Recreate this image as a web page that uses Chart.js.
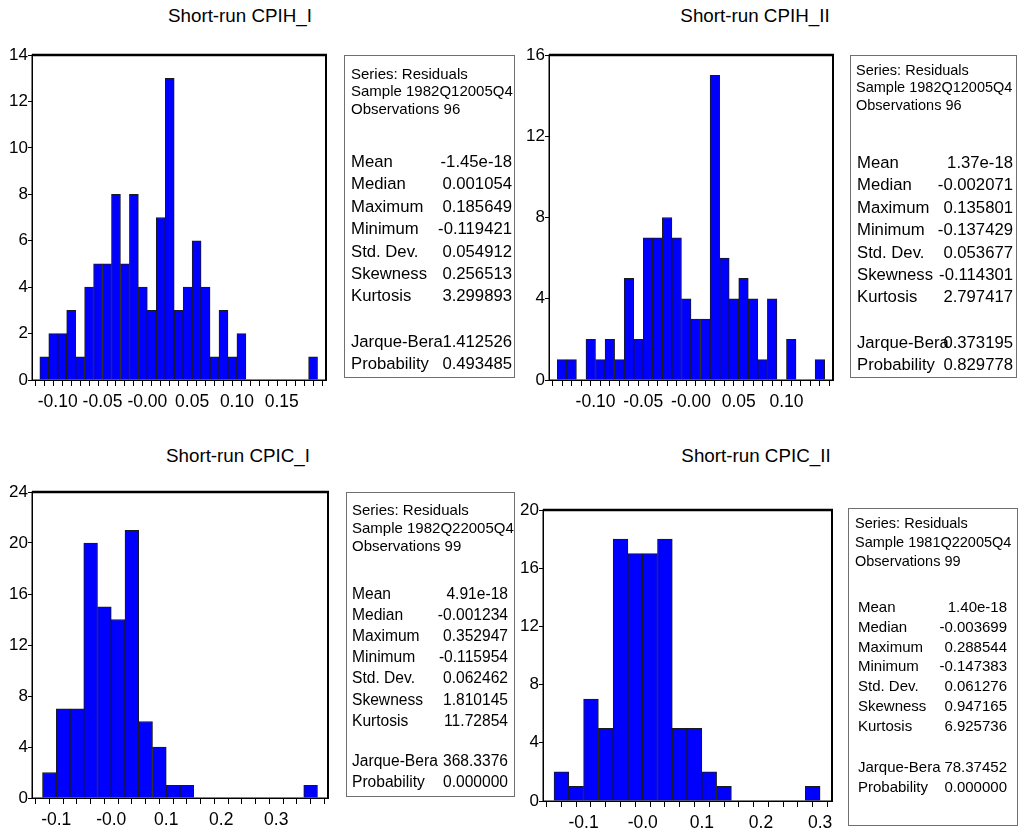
<!DOCTYPE html>
<html>
<head>
<meta charset="utf-8">
<script src="https://cdn.jsdelivr.net/npm/chart.js@4.4.1/dist/chart.umd.min.js"></script>
<style>
  body { margin: 0; background: #fff; width: 1019px; height: 829px; position: relative; overflow: hidden;
         font-family: "Liberation Sans", Arial, sans-serif; color: #000; }
  canvas { position: absolute; }
  .title { position: absolute; font-size: 18.8px; transform: translate(-50%, -50%); white-space: nowrap; }
  .box { position: absolute; border: 1px solid #707070; box-sizing: border-box; }
  .box div { position: absolute; white-space: nowrap; line-height: 1; transform: translateY(-50%); }
</style>
</head>
<body>
<script>
// bin midpoints and counts
const CPIH_I_BINS = [-0.115, -0.105, -0.095, -0.085, -0.075, -0.065, -0.055, -0.045, -0.035, -0.025, -0.015,
  -0.005, 0.005, 0.015, 0.025, 0.035, 0.045, 0.055, 0.065, 0.075, 0.085, 0.095, 0.105, 0.115, 0.125, 0.135,
  0.145, 0.155, 0.165, 0.175, 0.185];
const CPIH_I_COUNTS = [1, 2, 2, 3, 1, 4, 5, 5, 8, 5, 8, 4, 3, 7, 13, 3, 4, 6, 4, 1, 3, 1, 2, 0, 0, 0, 0, 0, 0, 0, 1];

const CPIH_II_BINS = [-0.135, -0.125, -0.115, -0.105, -0.095, -0.085, -0.075, -0.065, -0.055, -0.045, -0.035,
  -0.025, -0.015, -0.005, 0.005, 0.015, 0.025, 0.035, 0.045, 0.055, 0.065, 0.075, 0.085, 0.095, 0.105, 0.115,
  0.125, 0.135];
const CPIH_II_COUNTS = [1, 1, 0, 2, 1, 2, 1, 5, 2, 7, 7, 8, 7, 4, 3, 3, 15, 6, 4, 5, 4, 1, 4, 0, 2, 0, 0, 1];

const CPIC_I_BINS = [-0.1125, -0.0875, -0.0625, -0.0375, -0.0125, 0.0125, 0.0375, 0.0625, 0.0875, 0.1125,
  0.1375, 0.1625, 0.1875, 0.2125, 0.2375, 0.2625, 0.2875, 0.3125, 0.3375, 0.3625];
const CPIC_I_COUNTS = [2, 7, 7, 20, 15, 14, 21, 6, 4, 1, 1, 0, 0, 0, 0, 0, 0, 0, 0, 1];

const CPIC_II_BINS = [-0.1375, -0.1125, -0.0875, -0.0625, -0.0375, -0.0125, 0.0125, 0.0375, 0.0625, 0.0875,
  0.1125, 0.1375, 0.1625, 0.1875, 0.2125, 0.2375, 0.2625, 0.2875];
const CPIC_II_COUNTS = [2, 1, 7, 5, 18, 17, 17, 18, 5, 5, 2, 1, 0, 0, 0, 0, 0, 1];

const TITLES = ["Short-run CPIH_I", "Short-run CPIH_II", "Short-run CPIC_I", "Short-run CPIC_II"];
const STAT_NAMES = ["Mean", "Median", "Maximum", "Minimum", "Std. Dev.", "Skewness", "Kurtosis"];
const SAMPLES = ["1982Q12005Q4", "1982Q12005Q4", "1982Q22005Q4", "1981Q22005Q4"];
const OBS = [96, 96, 99, 99];
const STATS = [
  ["-1.45e-18", "0.001054", "0.185649", "-0.119421", "0.054912", "0.256513", "3.299893"],
  ["1.37e-18", "-0.002071", "0.135801", "-0.137429", "0.053677", "-0.114301", "2.797417"],
  ["4.91e-18", "-0.001234", "0.352947", "-0.115954", "0.062462", "1.810145", "11.72854"],
  ["1.40e-18", "-0.003699", "0.288544", "-0.147383", "0.061276", "0.947165", "6.925736"],
];
const JARQUE = ["1.412526", "0.373195", "368.3376", "78.37452"];
const PROB = ["0.493485", "0.829778", "0.000000", "0.000000"];

const BAR = "#0000ff";
const FONT = "'Liberation Sans', Arial, sans-serif";
Chart.defaults.font.family = FONT;
Chart.defaults.color = "#000";

// layout of each panel (plot area in page pixels, axis ranges)
const PANELS = [
  { bins: CPIH_I_BINS, counts: CPIH_I_COUNTS, l: 32, t: 55, r: 326, b: 380,
    xmin: -0.1236, xmax: 0.1943, xstep: 0.01, xlab: 0.05, dec: 2, ymax: 14, ystep: 2,
    title: [240, 16] },
  { bins: CPIH_II_BINS, counts: CPIH_II_COUNTS, l: 549, t: 55, r: 833, b: 380,
    xmin: -0.1436, xmax: 0.1436, xstep: 0.01, xlab: 0.05, dec: 2, ymax: 16, ystep: 4,
    title: [755, 16] },
  { bins: CPIC_I_BINS, counts: CPIC_I_COUNTS, l: 32, t: 492, r: 328, b: 798,
    xmin: -0.1313, xmax: 0.3813, xstep: 0.025, xlab: 0.1, dec: 1, ymax: 24, ystep: 4,
    title: [238, 456] },
  { bins: CPIC_II_BINS, counts: CPIC_II_COUNTS, l: 543, t: 510, r: 832, b: 801,
    xmin: -0.1558, xmax: 0.3073, xstep: 0.025, xlab: 0.1, dec: 1, ymax: 20, ystep: 4,
    title: [756, 456] },
];

const BOXES = [
  { x: 344, y: 55, w: 171, h: 323, hy: [72, 89, 107], sy: 161, ss: 22.4, jy: 341, py: 363, hf: 15, sf: 16.7, hp: 7, lp: 7, rp: 3 },
  { x: 850, y: 55, w: 167, h: 323, hy: [69, 86, 104], sy: 162, ss: 22.4, jy: 342, py: 364, hf: 14.5, sf: 16.7, hp: 6, lp: 7, rp: 4 },
  { x: 346, y: 492, w: 169, h: 305, hy: [508, 526, 544], sy: 593, ss: 21.1, jy: 760, py: 781, hf: 15, sf: 15.6, hp: 6, lp: 6, rp: 7 },
  { x: 848, y: 508, w: 170, h: 318, hy: [522, 541, 560], sy: 605, ss: 19.8, jy: 765, py: 785, hf: 14.5, sf: 15, hp: 7, lp: 10, rp: 11 },
];

const frame = {
  id: "frame",
  afterDraw(c) {
    const { ctx, chartArea: a } = c;
    ctx.save();
    ctx.strokeStyle = "#000";
    ctx.lineWidth = 1;
    ctx.strokeRect(a.left, a.top, a.right - a.left, a.bottom - a.top);
    ctx.lineWidth = 2.5;
    ctx.beginPath();
    ctx.moveTo(a.left, a.top);
    ctx.lineTo(a.right + 1, a.top);
    ctx.stroke();
    ctx.lineWidth = 2;
    ctx.beginPath();
    ctx.moveTo(a.right, a.top);
    ctx.lineTo(a.right, a.bottom);
    ctx.stroke();
    ctx.restore();
  },
};

function xLabel(p) {
  return (v) => {
    const n = Math.round(v / p.xlab);
    if (Math.abs(v - n * p.xlab) > p.xstep * 0.01) return "";
    const s = (n * p.xlab).toFixed(p.dec);
    return n === 0 ? "-" + s : s;
  };
}

const PAD_L = 45, PAD_T = 15, PAD_R = 30, PAD_B = 45;

PANELS.forEach((p, i) => {
  const cv = document.createElement("canvas");
  const w = p.r - p.l + PAD_L + PAD_R, h = p.b - p.t + PAD_T + PAD_B;
  cv.width = w; cv.height = h;
  cv.style.left = p.l - PAD_L + "px";
  cv.style.top = p.t - PAD_T + "px";
  cv.style.width = w + "px"; cv.style.height = h + "px";
  document.body.appendChild(cv);

  new Chart(cv, {
    type: "bar",
    data: {
      datasets: [{
        data: p.bins.map((x, k) => ({ x, y: p.counts[k] })),
        backgroundColor: BAR,
        borderColor: "#1a1a1a",
        borderWidth: 1,
        barPercentage: 1,
        categoryPercentage: 1,
      }],
    },
    options: {
      responsive: false,
      animation: false,
      devicePixelRatio: 1,
      layout: { padding: { left: 0, top: PAD_T, right: PAD_R, bottom: 0 } },
      plugins: { legend: { display: false }, tooltip: { enabled: false } },
      scales: {
        x: {
          type: "linear",
          min: p.xmin, max: p.xmax,
          afterFit: (s) => { s.height = PAD_B; },
          ticks: { stepSize: p.xstep, includeBounds: false, autoSkip: false, maxRotation: 0,
                   padding: 6, font: { size: 17.5 }, callback: xLabel(p) },
          grid: { drawOnChartArea: false, tickLength: 6, color: "#000" },
          border: { color: "#000", width: 1 },
        },
        y: {
          min: 0, max: p.ymax,
          afterFit: (s) => { s.width = PAD_L; },
          ticks: { stepSize: p.ystep, padding: 0, font: { size: 17 } },
          grid: { drawOnChartArea: false, tickLength: 4, color: "#000" },
          border: { color: "#000", width: 1 },
        },
      },
    },
    plugins: [frame],
  });

  const t = document.createElement("div");
  t.className = "title";
  t.textContent = TITLES[i];
  t.style.left = p.title[0] + "px";
  t.style.top = p.title[1] + "px";
  document.body.appendChild(t);
});

BOXES.forEach((b, i) => {
  const box = document.createElement("div");
  box.className = "box";
  Object.assign(box.style, { left: b.x + "px", top: b.y + "px", width: b.w + "px", height: b.h + "px" });
  const add = (text, y, size, left, right) => {
    const d = document.createElement("div");
    d.textContent = text;
    d.style.top = y - b.y + "px";
    d.style.fontSize = size + "px";
    if (right != null) d.style.right = right + "px"; else d.style.left = left + "px";
    box.appendChild(d);
  };
  add("Series: Residuals", b.hy[0], b.hf, b.hp - 1);
  add("Sample " + SAMPLES[i], b.hy[1], b.hf, b.hp - 1);
  add("Observations " + OBS[i], b.hy[2], b.hf, b.hp - 1);
  STAT_NAMES.forEach((name, k) => {
    const y = b.sy + k * b.ss;
    add(name, y, b.sf, b.lp - 1);
    add(STATS[i][k], y, b.sf, null, b.rp - 1);
  });
  add("Jarque-Bera", b.jy, b.sf, b.lp - 1);
  add(JARQUE[i], b.jy, b.sf, null, b.rp - 1);
  add("Probability", b.py, b.sf, b.lp - 1);
  add(PROB[i], b.py, b.sf, null, b.rp - 1);
  document.body.appendChild(box);
});
</script>
</body>
</html>
